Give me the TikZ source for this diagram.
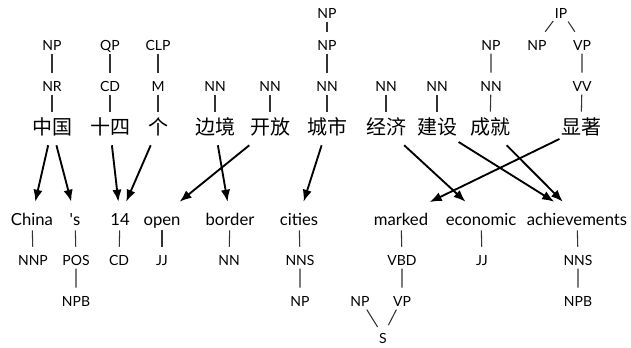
\documentclass[tikz,border=0pt]{standalone}
\usepackage{fontspec}
\setmainfont{Lato}
\newfontfamily\zhfont{Noto Sans CJK SC}
\usetikzlibrary{arrows.meta}

\begin{document}
\begin{tikzpicture}[x=0.75pt, y=-0.75pt,
    tag/.style={anchor=base, font=\fontsize{10.5}{12}\selectfont, inner xsep=1pt, inner ysep=1.5pt, text height=12pt, text depth=1pt},
    zh/.style={anchor=base, font=\zhfont\fontsize{15}{18}\selectfont, inner sep=1pt, text height=15.5pt, text depth=7.25pt},
    word/.style={anchor=base, font=\fontsize{12.5}{15}\selectfont, inner sep=1pt, text height=16.25pt, text depth=2.75pt},
    treeline/.style={black!80, line width=0.8pt},
    link/.style={-{Latex[length=9pt, width=7pt]}, line width=1.4pt}]
  \useasboundingbox (0,0) rectangle (631,347);

  % Chinese side
  \node[tag] (zgNP) at (52,50) {NP};
  \node[tag] (zgNR) at (52,91) {NR};
  \node[zh] (zg) at (52,134) {中国};
  \node[tag] (ssQP) at (110,50) {QP};
  \node[tag] (ssCD) at (110,91) {CD};
  \node[zh] (ss) at (110,134) {十四};
  \node[tag] (geCLP) at (158,50) {CLP};
  \node[tag] (geM) at (158,91) {M};
  \node[zh] (ge) at (158,134) {个};
  \node[tag] (bjNN) at (215,91) {NN};
  \node[zh] (bj) at (215,134) {边境};
  \node[tag] (kfNN) at (270,91) {NN};
  \node[zh] (kf) at (270,134) {开放};
  \node[tag] (csNPtop) at (327,18) {NP};
  \node[tag] (csNP) at (327,50) {NP};
  \node[tag] (csNN) at (327,91) {NN};
  \node[zh] (cs) at (327,134) {城市};
  \node[tag] (jjNN) at (386,91) {NN};
  \node[zh] (jj) at (386,134) {经济};
  \node[tag] (jsNN) at (437,91) {NN};
  \node[zh] (js) at (437,134) {建设};
  \node[tag] (cjNP) at (491,50) {NP};
  \node[tag] (cjNN) at (491,91) {NN};
  \node[zh] (cj) at (490,134) {成就};
  \node[tag] (xzIP) at (561,18) {IP};
  \node[tag] (xzNP) at (537,50) {NP};
  \node[tag] (xzVP) at (582,50) {VP};
  \node[tag] (xzVV) at (582,91) {VV};
  \node[zh] (xz) at (581,134) {显著};

  % English side
  \node[word] (china) at (32,225) {China};
  \node[tag] (chinaNNP) at (33,265) {NNP};
  \node[word] (poss) at (75,225) {\textquotesingle s};
  \node[tag] (possPOS) at (76,265) {POS};
  \node[tag] (possNPB) at (76,306) {NPB};
  \node[word] (fourteen) at (120,225) {14};
  \node[tag] (fourteenCD) at (119,265) {CD};
  \node[word] (open) at (162,225) {open};
  \node[tag] (openJJ) at (162,265) {JJ};
  \node[word] (border) at (230,225) {border};
  \node[tag] (borderNN) at (229,265) {NN};
  \node[word] (cities) at (299,225) {cities};
  \node[tag] (citiesNNS) at (300,265) {NNS};
  \node[tag] (citiesNP) at (300,306) {NP};
  \node[word] (marked) at (401,225) {marked};
  \node[tag] (markedVBD) at (402,265) {VBD};
  \node[tag] (markedVP) at (402,306) {VP};
  \node[tag] (markedNP) at (360,306) {NP};
  \node[tag] (markedS) at (383,343) {S};
  \node[word] (economic) at (481,225) {economic};
  \node[tag] (economicJJ) at (482,265) {JJ};
  \node[word] (achiev) at (577,225) {achievements};
  \node[tag] (achievNNS) at (578,265) {NNS};
  \node[tag] (achievNPB) at (578,306) {NPB};

  % tree edges
  \draw[treeline] (zgNP) -- (zgNR) -- (zg);
  \draw[treeline] (ssQP) -- (ssCD) -- (ss);
  \draw[treeline] (geCLP) -- (geM) -- (ge);
  \draw[treeline] (bjNN) -- (bj);
  \draw[treeline] (kfNN) -- (kf);
  \draw[treeline] (csNPtop) -- (csNP) -- (csNN) -- (cs);
  \draw[treeline] (jjNN) -- (jj);
  \draw[treeline] (jsNN) -- (js);
  \draw[treeline] (cjNP) -- (cjNN) -- (cj);
  \draw[treeline] (xzIP) -- (xzNP);
  \draw[treeline] (xzIP) -- (xzVP) -- (xzVV) -- (xz);
  \draw[treeline] (china) -- (chinaNNP);
  \draw[treeline] (poss) -- (possPOS) -- (possNPB);
  \draw[treeline] (fourteen) -- (fourteenCD);
  \draw[treeline] (open) -- (openJJ);
  \draw[treeline] (border) -- (borderNN);
  \draw[treeline] (cities) -- (citiesNNS) -- (citiesNP);
  \draw[treeline] (marked) -- (markedVBD) -- (markedVP) -- (markedS);
  \draw[treeline] (markedNP) -- (markedS);
  \draw[treeline] (economic) -- (economicJJ);
  \draw[treeline] (achiev) -- (achievNNS) -- (achievNPB);

  % word alignment
  \draw[link] (zg) -- (china);
  \draw[link] (zg) -- (poss);
  \draw[link] (ss) -- (fourteen);
  \draw[link] (ge) -- (fourteen);
  \draw[link] (bj) -- (border);
  \draw[link] (kf) -- (open);
  \draw[link] (cs) -- (cities);
  \draw[link] (jj) -- (economic);
  \draw[link] (js) -- (achiev);
  \draw[link] (cj) -- (achiev);
  \draw[link] (xz) -- (marked);
\end{tikzpicture}
\end{document}
